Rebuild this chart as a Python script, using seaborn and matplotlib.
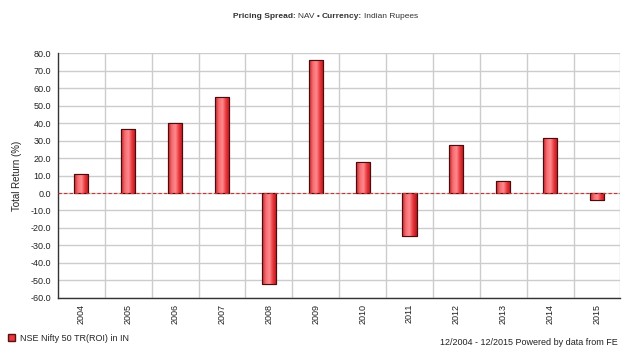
import numpy as np
import pandas as pd
import seaborn as sns
import matplotlib.pyplot as plt
from matplotlib.colors import LinearSegmentedColormap

# Data
years = ['2004', '2005', '2006', '2007', '2008', '2009',
         '2010', '2011', '2012', '2013', '2014', '2015']
returns = [10.7, 36.3, 39.8, 54.8, -51.8, 75.8,
           17.9, -24.6, 27.7, 6.8, 31.4, -4.1]
y_ticks = np.arange(-60, 90, 10)
series_name = 'NSE Nifty 50 TR(ROI) in IN'
title_parts = [('Pricing Spread:', 'bold'), ('NAV \u2022', 'normal'),
               ('Currency:', 'bold'), ('Indian Rupees', 'normal')]

df = pd.DataFrame({'year': years, 'ret': returns})

sns.set_style('white')
plt.rcParams['font.family'] = ['Liberation Sans', 'DejaVu Sans']

fig = plt.figure(figsize=(6.27, 3.56), dpi=100)
ax = fig.add_axes([0.0925, 0.163, 0.897, 0.688])

sns.barplot(data=df, x='year', y='ret', color='#e8393e', width=0.3,
            edgecolor='#5a1010', linewidth=0.8, ax=ax, zorder=3)

# cylinder-like gradient on each bar
shade = LinearSegmentedColormap.from_list(
    'bar', ['#c41f25', '#f46c70', '#ff8a8d', '#e6353b', '#b3161c'])
grad = np.linspace(0, 1, 64).reshape(1, -1)
for p in ax.patches:
    x0, y0 = p.get_x(), p.get_y()
    w, h = p.get_width(), p.get_height()
    im = ax.imshow(grad, cmap=shade, aspect='auto', zorder=3.5,
                   extent=[x0, x0 + w, y0, y0 + h])
    im.set_clip_path(p)
    edge = plt.Rectangle((x0, y0), w, h, fill=False, edgecolor='#4a0c0c',
                         linewidth=0.8, zorder=4)
    ax.add_patch(edge)

ax.set_ylim(-60, 80)
ax.set_xlim(-0.5, len(years) - 0.5)
ax.set_yticks(y_ticks)
ax.set_yticklabels([f'{v:.1f}' for v in y_ticks], fontsize=6.5, color='#222222')
ax.set_xticks(np.arange(len(years)))
ax.set_xticklabels(years, rotation=90, fontsize=6.5, color='#222222')

# grid: horizontal at every tick, vertical between categories
for v in y_ticks:
    ax.axhline(v, color='#cccccc', linewidth=1.0, zorder=0)
for b in np.arange(len(years)) + 0.5:
    ax.axvline(b, color='#cccccc', linewidth=1.0, zorder=0)
ax.axhline(0, color='#cc3333', linewidth=0.8, linestyle=(0, (3, 2)), zorder=5)

# boundary ticks on x axis
ax.set_xticks(np.arange(len(years) + 1) - 0.5, minor=True)
ax.tick_params(axis='x', which='major', length=0, pad=4)
ax.tick_params(axis='x', which='minor', length=4, width=1, color='#333333',
               direction='inout')
ax.tick_params(axis='y', length=3, width=1, color='#333333', pad=2)

for s in ['top', 'right']:
    ax.spines[s].set_visible(False)
for s in ['left', 'bottom']:
    ax.spines[s].set_color('#333333')
    ax.spines[s].set_linewidth(1.0)

ax.set_xlabel('')
ax.set_ylabel('Total Return (%)', fontsize=7, color='#222222', labelpad=6)

# title with bold labels, chained one after another
prev = fig.text(0.372, 0.955, title_parts[0][0], fontsize=6,
                fontweight=title_parts[0][1], color='#333333',
                ha='left', va='center')
for txt, wt in title_parts[1:]:
    prev = ax.annotate(txt, xy=(1, 0.5), xycoords=prev,
                       xytext=(1.5, 0), textcoords='offset points',
                       fontsize=6, fontweight=wt, color='#333333',
                       ha='left', va='center', annotation_clip=False)

# legend and footer
handle = plt.Rectangle((0, 0), 1, 1, facecolor='#e8393e', edgecolor='#5a1010')
fig.legend([handle], [series_name], loc='lower left',
           bbox_to_anchor=(0.0, 0.015), frameon=False, fontsize=6.5,
           handlelength=0.8, handleheight=0.8, handletextpad=0.5)
fig.text(0.985, 0.025, '12/2004 - 12/2015 Powered by data from FE',
         fontsize=6.5, color='#222222', ha='right', va='bottom')

fig.savefig('out.png', dpi=100)
